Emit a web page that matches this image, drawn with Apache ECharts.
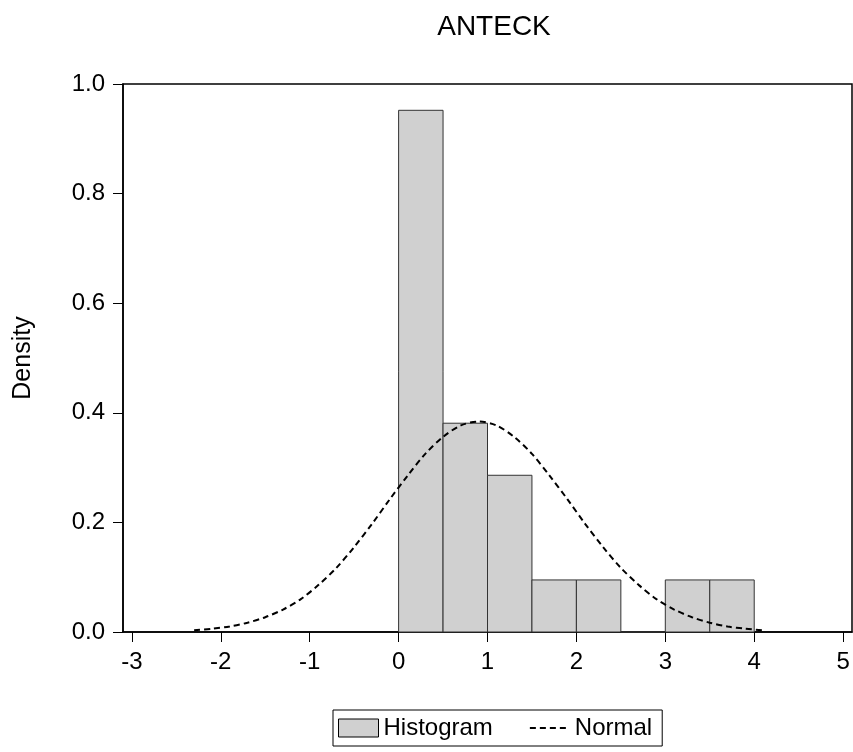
<!DOCTYPE html>
<html>
<head>
<meta charset="utf-8">
<script src="https://cdn.jsdelivr.net/npm/echarts@6/dist/echarts.min.js"></script>
<style>html,body{margin:0;padding:0;background:#fff}#c{width:853px;height:752px}</style>
</head>
<body>
<div id="c"></div>
<script>
var binStarts = [0, 0.5, 1.0, 1.5, 2.0, 2.5, 3.0, 3.5];
var binEnds   = [0.5, 1.0, 1.5, 2.0, 2.5, 3.0, 3.5, 4.0];
var densities = [0.952, 0.381, 0.286, 0.095, 0.095, 0, 0.095, 0.095];
var normalX = [-2.3,-2.1,-1.9,-1.7,-1.5,-1.3,-1.1,-0.9,-0.7,-0.5,-0.3,-0.1,0.1,0.3,0.5,0.7,0.9,1.1,1.3,1.5,1.7,1.9,2.1,2.3,2.5,2.7,2.9,3.1,3.3,3.5,3.7,3.9,4.1];
var normalY = [0.003,0.006,0.010,0.017,0.027,0.041,0.060,0.086,0.117,0.155,0.197,0.242,0.285,0.325,0.356,0.377,0.384,0.377,0.356,0.325,0.285,0.242,0.197,0.155,0.117,0.086,0.060,0.041,0.027,0.017,0.010,0.006,0.003];
var xTicks = [-3, -2, -1, 0, 1, 2, 3, 4, 5];

var FONT = '"Liberation Sans", Arial, sans-serif';
var histData = binStarts.map(function (s, i) { return [s, binEnds[i], densities[i]]; });
var normData = normalX.map(function (x, i) { return [x, normalY[i]]; });

var chart = echarts.init(document.getElementById('c'), null, {renderer: 'canvas'});
chart.setOption({
  animation: false,
  backgroundColor: '#fff',
  title: {
    text: 'ANTECK', left: 489, top: 8, textAlign: 'center',
    textStyle: {fontFamily: FONT, fontSize: 28, fontWeight: 'normal', color: '#000'}
  },
  grid: {left: 123, right: 1, top: 84, bottom: 120, show: true, borderColor: '#000', borderWidth: 1.5, containLabel: false},
  legend: {
    left: 333, top: 710, padding: [6, 10, 6, 5], itemGap: 36,
    borderColor: '#000', borderWidth: 1, itemWidth: 40, itemHeight: 18,
    textStyle: {fontFamily: FONT, fontSize: 24, color: '#000'},
    data: [
      {name: 'Histogram', icon: 'rect', itemStyle: {color: '#d0d0d0', borderColor: '#000', borderWidth: 1}},
      {name: 'Normal', itemStyle: {opacity: 0}}
    ]
  },
  xAxis: {
    type: 'value', min: -3.1, max: 5.1,
    axisLine: {show: true, onZero: false, lineStyle: {color: '#000', width: 1.5}},
    axisTick: {show: true, length: 10, customValues: xTicks, lineStyle: {color: '#000', width: 1}},
    axisLabel: {customValues: xTicks, fontFamily: FONT, fontSize: 24, color: '#000', margin: 18},
    splitLine: {show: false}
  },
  yAxis: {
    type: 'value', min: 0, max: 1, interval: 0.2,
    name: 'Density', nameLocation: 'middle', nameRotate: 90, nameGap: 87,
    nameTextStyle: {fontFamily: FONT, fontSize: 25, color: '#000'},
    axisLine: {show: true, onZero: false, lineStyle: {color: '#000', width: 1.5}},
    axisTick: {show: true, length: 10, lineStyle: {color: '#000', width: 1}},
    axisLabel: {fontFamily: FONT, fontSize: 24, color: '#000', margin: 18,
      formatter: function (v) { return v.toFixed(1); }},
    splitLine: {show: false}
  },
  series: [
    {
      name: 'Histogram', type: 'custom',
      itemStyle: {color: '#d0d0d0', borderColor: '#000', borderWidth: 1},
      renderItem: function (params, api) {
        var p0 = api.coord([api.value(0), api.value(2)]);
        var p1 = api.coord([api.value(1), 0]);
        return {
          type: 'rect',
          shape: {x: p0[0], y: p0[1], width: p1[0] - p0[0], height: p1[1] - p0[1]},
          style: {fill: '#d0d0d0', stroke: '#333', lineWidth: 1}
        };
      },
      encode: {x: [0, 1], y: 2},
      data: histData, z: 2
    },
    {
      name: 'Normal', type: 'line', data: normData, smooth: 0.3, symbol: 'none',
      lineStyle: {color: '#000', width: 2, type: [6, 4]},
      itemStyle: {color: '#000'}, z: 3
    }
  ]
});
</script>
</body>
</html>
